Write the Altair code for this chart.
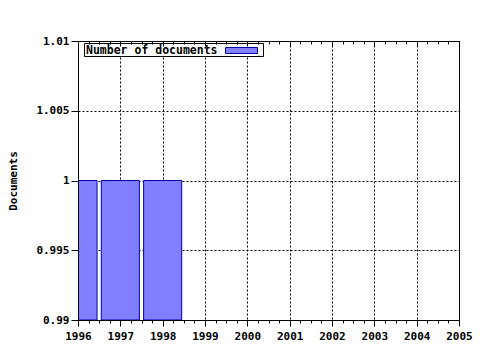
import altair as alt
import pandas as pd

# ---- data ----
years = [1996, 1997, 1998]
documents = [1, 1, 1]
x_ticks = [1996, 1997, 1998, 1999, 2000, 2001, 2002, 2003, 2004, 2005]
y_ticks = [0.99, 0.995, 1, 1.005, 1.01]
series_name = "Number of documents"
y_title = "Documents"

minor_x = [y + q / 4 for y in x_ticks[:-1] for q in (1, 2, 3)]

df = pd.DataFrame({"year": years, "documents": documents})

FONT = "DejaVu Sans Mono"
FILL = "#8080ff"
EDGE = "#0000b0"
HALF = 0.45

xscale = alt.Scale(domain=[x_ticks[0], x_ticks[-1]], nice=False, zero=False)
yscale = alt.Scale(domain=[y_ticks[0], y_ticks[-1]], nice=False, zero=False)

# layer 1: bars + grid (behind)
bars = alt.Chart(df).transform_calculate(
    x0=f"datum.year - {HALF}", x1=f"datum.year + {HALF}"
).mark_bar(clip=True, fill=FILL, stroke=EDGE, strokeWidth=1).encode(
    x=alt.X("x0:Q", scale=xscale,
            axis=alt.Axis(orient="bottom", values=x_ticks, grid=True, domain=False,
                          ticks=False, labels=False, title=None, zindex=0,
                          gridColor="black", gridDash=[2, 2], gridOpacity=1)),
    x2="x1:Q",
    y=alt.Y("documents:Q", scale=yscale,
            axis=alt.Axis(orient="left", values=y_ticks, grid=True, domain=False,
                          ticks=False, labels=False, title=None, zindex=0,
                          gridColor="black", gridDash=[2, 2], gridOpacity=1)),
    y2=alt.datum(y_ticks[0]),
)

# layer 2: main axes
main_axes = alt.Chart(df).mark_point(opacity=0).encode(
    x=alt.X("year:Q", scale=xscale,
            axis=alt.Axis(orient="bottom", values=x_ticks, grid=False, domain=True,
                          domainColor="black", tickColor="black", tickSize=6,
                          labelFont=FONT, labelFontWeight="bold", labelFontSize=11,
                          labelColor="black", labelPadding=4, format="d",
                          labelFlush=False, labelOverlap=False,
                          title=None, zindex=1)),
    y=alt.Y("documents:Q", scale=yscale,
            axis=alt.Axis(orient="left", values=y_ticks, grid=False, domain=True,
                          domainColor="black", tickColor="black", tickSize=7,
                          labelFont=FONT, labelFontWeight="bold", labelFontSize=11,
                          labelColor="black", labelPadding=2, format="~g",
                          labelFlush=False, labelOverlap=False,
                          title=y_title, titleFont=FONT, titleFontWeight="bold",
                          titleFontSize=11, titleColor="black", titleX=-65,
                          titleY=139.5, titleAngle=270, titleAlign="center",
                          titleBaseline="middle", zindex=1)),
)

# layer 3: bottom minor ticks
bottom_minor = alt.Chart(df).mark_point(opacity=0).encode(
    x=alt.X("year:Q", scale=xscale,
            axis=alt.Axis(orient="bottom", values=minor_x, grid=False, domain=False,
                          tickColor="black", tickSize=3, labels=False, title=None,
                          zindex=1)),
    y=alt.Y("documents:Q", scale=yscale, axis=None),
)

# layer 4: top major ticks (pointing inward)
top_major = alt.Chart(df).mark_point(opacity=0).encode(
    x=alt.X("year:Q", scale=xscale,
            axis=alt.Axis(orient="top", values=x_ticks, grid=False, domain=False,
                          tickColor="black", tickSize=5, offset=-5, labels=False,
                          title=None, zindex=1)),
    y=alt.Y("documents:Q", scale=yscale, axis=None),
)

# layer 5: top minor ticks
top_minor = alt.Chart(df).mark_point(opacity=0).encode(
    x=alt.X("year:Q", scale=xscale,
            axis=alt.Axis(orient="top", values=minor_x, grid=False, domain=False,
                          tickColor="black", tickSize=3, offset=-3, labels=False,
                          title=None, zindex=1)),
    y=alt.Y("documents:Q", scale=yscale, axis=None),
)

# legend
leg_df = pd.DataFrame({"label": [series_name]})
leg_box = alt.Chart(leg_df).mark_rect(fill="white", stroke="black", strokeWidth=1).encode(
    x=alt.value(6.5), x2=alt.value(185.5), y=alt.value(2.5), y2=alt.value(15.5)
)
leg_text = alt.Chart(leg_df).mark_text(
    font=FONT, fontWeight="bold", fontSize=11.5, color="black",
    align="left", baseline="middle"
).encode(x=alt.value(8), y=alt.value(9.5), text="label:N")
leg_swatch = alt.Chart(leg_df).mark_rect(fill=FILL, stroke=EDGE, strokeWidth=1).encode(
    x=alt.value(147.5), x2=alt.value(179.5), y=alt.value(6.5), y2=alt.value(12.5)
)

chart = alt.layer(
    bars, main_axes, bottom_minor, top_major, top_minor, leg_box, leg_text, leg_swatch
).resolve_axis(x="independent", y="independent").properties(
    width=381, height=279,
    autosize=alt.AutoSizeParams(type="none"),
    padding={"left": 78, "top": 41, "right": 21, "bottom": 30},
    background="white",
).configure_view(stroke="black", strokeWidth=1)

chart.save("out.html", embed_options={"renderer": "svg", "actions": False})
